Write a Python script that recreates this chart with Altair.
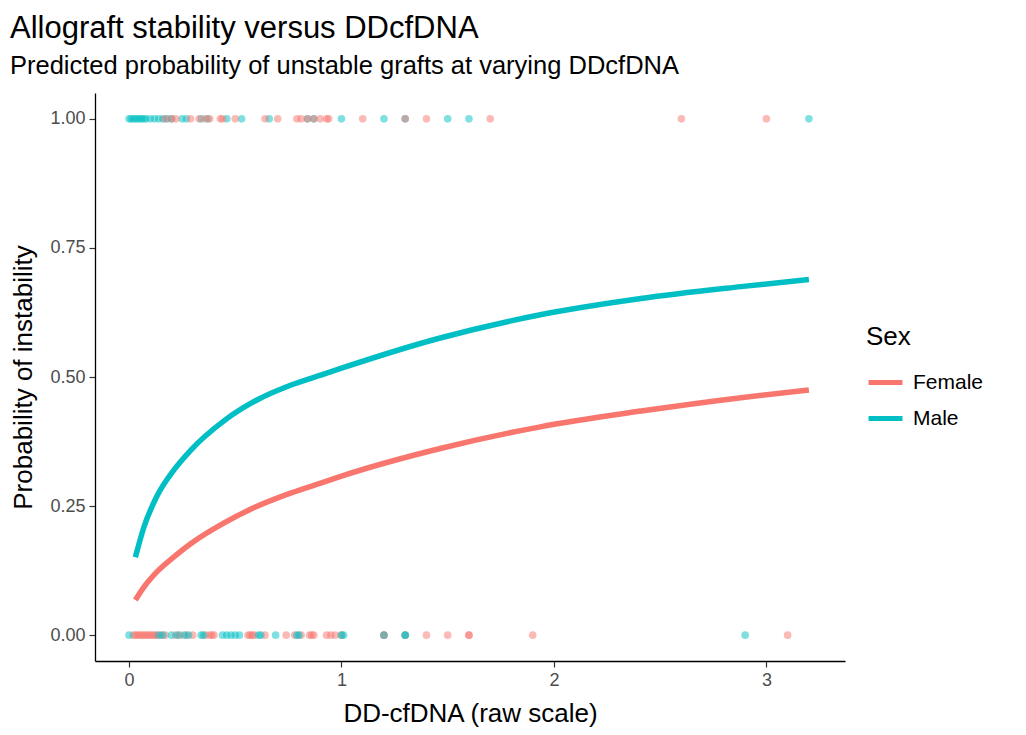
import altair as alt
import pandas as pd

# ---- data ----
male_x = [0.03, 0.07, 0.13, 0.21, 0.29, 0.45, 0.60, 0.76, 0.92, 1.00, 1.46, 1.93, 2.41, 2.88, 3.20]
male_p = [0.151, 0.209, 0.268, 0.319, 0.358, 0.416, 0.455, 0.484, 0.506, 0.517, 0.575, 0.620, 0.652, 0.675, 0.689]
female_x = [0.03, 0.07, 0.13, 0.21, 0.29, 0.45, 0.60, 0.76, 0.92, 1.00, 1.46, 1.93, 2.41, 2.88, 3.20]
female_p = [0.068, 0.093, 0.122, 0.151, 0.177, 0.218, 0.249, 0.275, 0.297, 0.308, 0.361, 0.403, 0.434, 0.460, 0.475]

male_unstable = [0.0, 0.01, 0.02, 0.03, 0.04, 0.05, 0.06, 0.07, 0.08, 0.1, 0.12, 0.14, 0.16, 0.18,
                 0.2, 0.25, 0.27, 0.34, 0.37, 0.46, 0.53, 0.66, 0.84, 0.87, 1.0, 1.2, 1.3, 1.5, 1.6, 3.2]
female_unstable = [0.17, 0.2, 0.22, 0.29, 0.33, 0.36, 0.38, 0.43, 0.44, 0.5, 0.64, 0.7, 0.79, 0.81,
                   0.84, 0.87, 0.9, 0.93, 0.94, 1.1, 1.3, 1.4, 1.7, 2.6, 3.0]
female_stable = [0.02, 0.03, 0.04, 0.05, 0.06, 0.07, 0.08, 0.09, 0.1, 0.11, 0.12, 0.13, 0.15, 0.17,
                 0.22, 0.24, 0.27, 0.3, 0.36, 0.38, 0.39, 0.4, 0.56, 0.57, 0.58, 0.59, 0.64, 0.74,
                 0.78, 0.81, 0.85, 0.86, 0.87, 0.93, 0.95, 0.97, 1.0, 1.2, 1.2, 1.3, 1.4, 1.5, 1.6,
                 1.6, 1.9, 3.1]
male_stable = [0.0, 0.14, 0.16, 0.2, 0.23, 0.26, 0.28, 0.34, 0.35, 0.44, 0.46, 0.48, 0.5, 0.52,
               0.61, 0.62, 0.69, 0.79, 0.8, 1.0, 1.01, 1.2, 1.3, 1.3, 2.9]

sexes = ["Female", "Male"]
colors = ["#F8766D", "#00BFC4"]

curves = pd.DataFrame(
    [{"x": x, "p": p, "Sex": "Male"} for x, p in zip(male_x, male_p)]
    + [{"x": x, "p": p, "Sex": "Female"} for x, p in zip(female_x, female_p)]
)
pts = pd.DataFrame(
    [{"x": v, "y": 1, "Sex": "Male"} for v in male_unstable]
    + [{"x": v, "y": 1, "Sex": "Female"} for v in female_unstable]
    + [{"x": v, "y": 0, "Sex": "Female"} for v in female_stable]
    + [{"x": v, "y": 0, "Sex": "Male"} for v in male_stable]
)

FONT = "Liberation Sans"
xscale = alt.Scale(domain=[-0.16, 3.37], nice=False, zero=False)
yscale = alt.Scale(domain=[-0.05, 1.05], nice=False, zero=False)
cscale = alt.Scale(domain=sexes, range=colors)

legend = alt.Legend(title="Sex", orient="none", legendX=771, legendY=231,
                    symbolType="stroke", symbolSize=1150, symbolStrokeWidth=5, symbolOpacity=1,
                    labelFontSize=21, titleFontSize=26, labelOffset=8,
                    titlePadding=13, rowPadding=6, labelColor="black",
                    titleColor="black", titleFontWeight="normal",
                    labelFont=FONT, titleFont=FONT)

xaxis = alt.Axis(values=[0, 1, 2, 3], format="d", title="DD-cfDNA (raw scale)", titlePadding=11)
yaxis = alt.Axis(values=[0, 0.25, 0.5, 0.75, 1.0], format=".2f", title="Probability of instability",
                 titlePadding=13)

points = alt.Chart(pts).mark_circle(size=58, opacity=0.5).encode(
    x=alt.X("x:Q", scale=xscale, axis=xaxis),
    y=alt.Y("y:Q", scale=yscale, axis=yaxis),
    color=alt.Color("Sex:N", scale=cscale, legend=legend),
)

lines = alt.Chart(curves).mark_line(strokeWidth=5.5, interpolate="monotone").encode(
    x=alt.X("x:Q", scale=xscale),
    y=alt.Y("p:Q", scale=yscale),
    color=alt.Color("Sex:N", scale=cscale, legend=legend),
)

chart = (
    alt.layer(points, lines)
    .properties(
        width=750,
        height=568,
        autosize=alt.AutoSizeParams(type="none"),
        padding={"left": 87, "top": 85, "right": 173, "bottom": 66},
        title=alt.Title(
            text="Allograft stability versus DDcfDNA",
            subtitle="Predicted probability of unstable grafts at varying DDcfDNA",
            anchor="start", frame="group", dx=-85, offset=13,
            font=FONT, fontSize=31, fontWeight="normal", color="black",
            subtitleFont=FONT, subtitleFontSize=25.5, subtitleColor="black", subtitlePadding=9,
        ),
    )
    .configure_view(stroke=None)
    .configure_axis(
        grid=False, labelFont=FONT, titleFont=FONT, labelFontSize=18, labelColor="#4D4D4D",
        titleFontSize=26, titleFontWeight="normal", titleColor="black",
        domainColor="black", domainWidth=1.3, tickColor="#333333", tickSize=6, tickWidth=1.2,
        labelPadding=4,
    )
)

chart.save("out.html", embed_options={"renderer": "svg", "actions": False})
